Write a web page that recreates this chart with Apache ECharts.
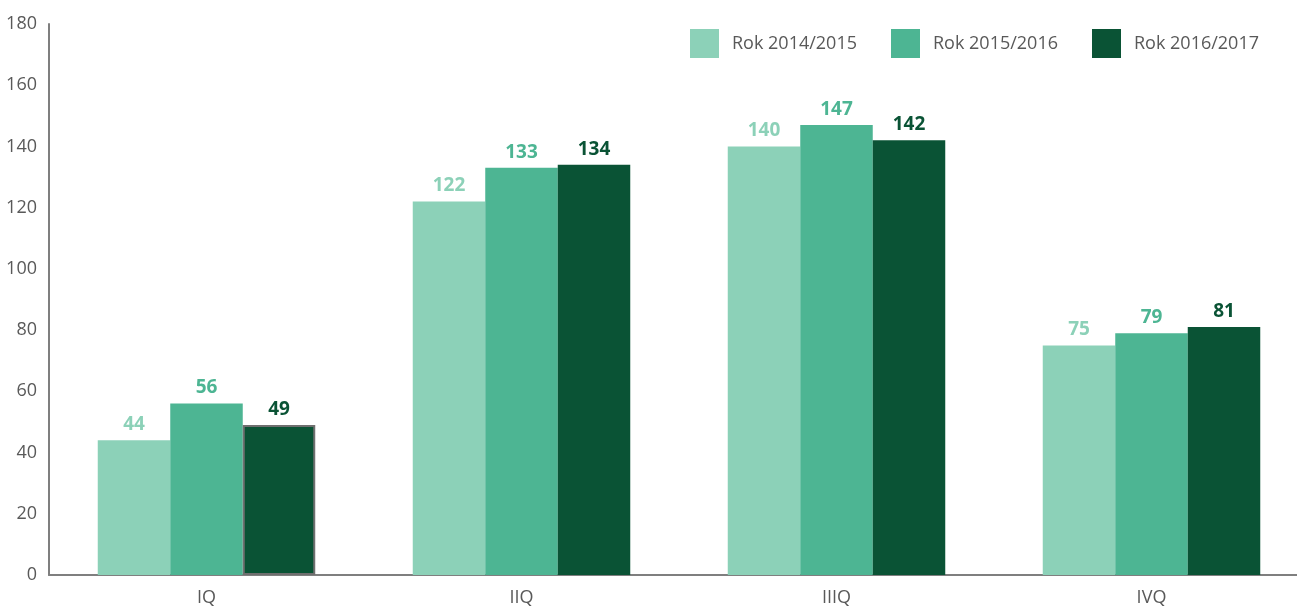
<!DOCTYPE html>
<html><head><meta charset="utf-8">
<script src="https://cdn.jsdelivr.net/npm/echarts@6/dist/echarts.min.js"></script>
<style>html,body{margin:0;padding:0;background:#fff}#c{width:1297px;height:611px}</style>
</head><body><div id="c"></div>
<script>
const categories = ['IQ','IIQ','IIIQ','IVQ'];
const seriesNames = ['Rok 2014/2015','Rok 2015/2016','Rok 2016/2017'];
const s2014 = [44,122,140,75];
const s2015 = [56,133,147,79];
const s2016 = [49,134,142,81];
const colors = ['#8CD1B8','#4DB593','#0A5335'];
const font = '"Open Sans", "Noto Sans", sans-serif';
const chart = echarts.init(document.getElementById('c'));
function mk(i, data){
  return {
    name: seriesNames[i], type:'bar', barWidth:72.5, barGap:'0%',
    itemStyle:{color:colors[i]},
    label:{show:true, position:'top', distance:6, color:colors[i], fontWeight:'bold', fontSize:19, fontFamily:font},
    data: data.map((v,j)=> (i===2 && j===0) ? {value:v, itemStyle:{borderColor:'#6f6f6f', borderWidth:2}} : v)
  };
}
chart.setOption({
  animation:false,
  textStyle:{fontFamily:font},
  grid:{left:49, width:1260, top:24, bottom:36, containLabel:false, outerBoundsMode:'none'},
  legend:{
    right:33, top:24, itemWidth:29, itemHeight:29, itemGap:34,
    icon:'rect',
    textStyle:{fontSize:18, color:'#595959', fontFamily:font, padding:[0,0,0,8]},
    data: seriesNames
  },
  xAxis:{
    type:'category', data:categories,
    axisLine:{lineStyle:{color:'#7f7f7f', width:2}},
    axisTick:{show:false},
    axisLabel:{fontSize:18, color:'#595959', margin:14}
  },
  yAxis:{
    type:'value', min:0, max:180, interval:20,
    axisLine:{show:true, lineStyle:{color:'#7f7f7f', width:2}},
    axisTick:{show:false},
    splitLine:{show:false},
    axisLabel:{fontSize:18, color:'#595959', margin:12}
  },
  series:[mk(0,s2014), mk(1,s2015), mk(2,s2016)]
});
</script></body></html>
